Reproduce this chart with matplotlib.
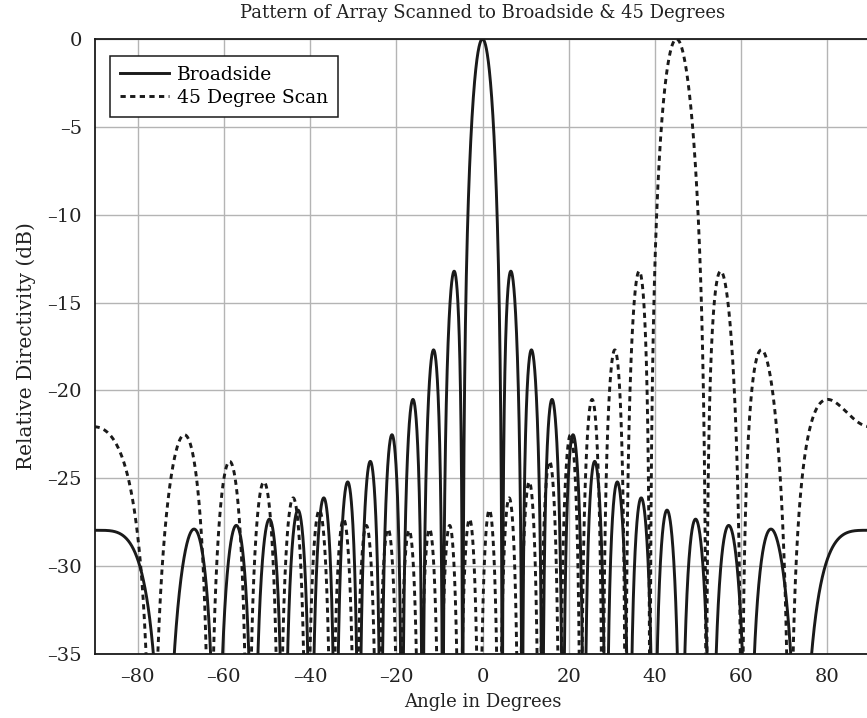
import numpy as np
import matplotlib
matplotlib.use('Agg')
import matplotlib.pyplot as plt

# array parameters (sidelobe spacing / level at +-90 deg)
n_elements = 25
spacing_wl = 0.5          # element spacing in wavelengths
scan_angles = [0, 45]     # degrees
labels = ['Broadside', '45 Degree Scan']
styles = ['-', (0, (1.8, 1.5))]

x_ticks = [-80, -60, -40, -20, 0, 20, 40, 60, 80]
x_ticklabels = ['–80', '–60', '–40', '–20', '0', '20', '40', '60', '80']
y_ticks = [-35, -30, -25, -20, -15, -10, -5, 0]
y_ticklabels = ['–35', '–30', '–25', '–20', '–15', '–10', '–5', '0']

plt.rcParams['font.family'] = ['DejaVu Serif']

theta = np.linspace(-90, 90, 6001)


def pattern_db(scan):
    psi = 2 * np.pi * spacing_wl * (np.sin(np.radians(theta)) - np.sin(np.radians(scan)))
    n = np.arange(n_elements)
    af = np.abs(np.exp(1j * np.outer(psi, n)).sum(axis=1)) / n_elements
    return 20 * np.log10(np.maximum(af, 1e-6))


fig = plt.figure(figsize=(8.67, 7.18), dpi=100)
ax = fig.add_axes([94.5 / 867, 64 / 718, 776 / 867, 615 / 718])

for scan, lab, ls in zip(scan_angles, labels, styles):
    ax.plot(theta, pattern_db(scan), color='#1a1a1a', lw=2.1, ls=ls, label=lab)

ax.set_xlim(-90, 90)
ax.set_ylim(-35, 0)
ax.set_xticks(x_ticks)
ax.set_xticklabels(x_ticklabels)
ax.set_yticks(y_ticks)
ax.set_yticklabels(y_ticklabels)
ax.tick_params(length=0, labelsize=14, colors='#222222')
ax.tick_params(axis='x', pad=10)
ax.tick_params(axis='y', pad=9)
ax.grid(color='#b4b4b4', lw=1)
for s in ax.spines.values():
    s.set_color('#1a1a1a')
    s.set_linewidth(1.3)

ax.set_title('Pattern of Array Scanned to Broadside & 45 Degrees', fontsize=13, pad=15,
             color='#222222')
ax.set_xlabel('Angle in Degrees', fontsize=13, labelpad=5, color='#222222')
ax.set_ylabel('Relative Directivity (dB)', fontsize=14.5, labelpad=8, color='#222222')

leg = ax.legend(loc='upper left', bbox_to_anchor=(0.02, 0.973), fancybox=False,
                framealpha=1, edgecolor='#1a1a1a', fontsize=13.5, handlelength=2.6,
                borderpad=0.55, labelspacing=0.25, handletextpad=0.4, borderaxespad=0)
leg.get_frame().set_linewidth(1.1)

fig.savefig('out.png', dpi=100)
